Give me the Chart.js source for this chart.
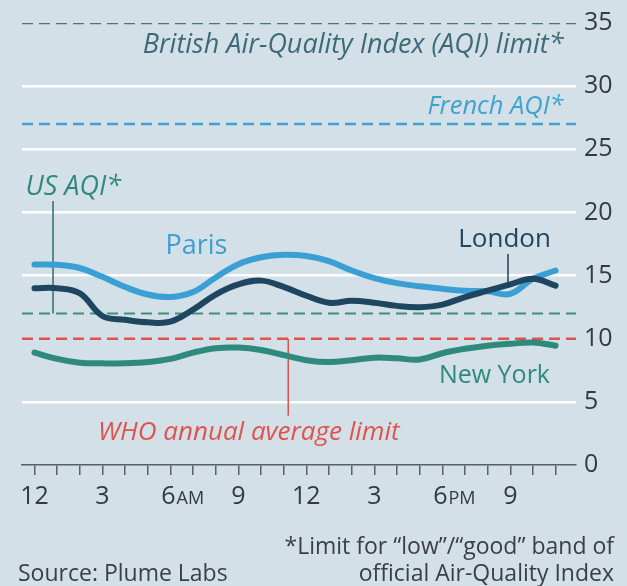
<!DOCTYPE html>
<html>
<head>
<meta charset="utf-8">
<script src="https://cdn.jsdelivr.net/npm/chart.js@4/dist/chart.umd.min.js"></script>
<style>
html,body{margin:0;padding:0;background:#d4e0e7;}
#wrap{position:relative;width:627px;height:586px;}
canvas{display:block;}
</style>
</head>
<body>
<div id="wrap"><canvas id="c" width="627" height="586"></canvas></div>
<script>
// ---- data ----
const hours = [0,1,2,3,4,5,6,7,8,9,10,11,12,13,14,15,16,17,18,19,20,21,22,23];
const hourLabels = {0:['12',''],3:['3',''],6:['6','AM'],9:['9',''],12:['12',''],15:['3',''],18:['6','PM'],21:['9','']};
const paris   = [15.87,15.85,15.6,14.9,14.1,13.5,13.3,13.7,14.85,15.9,16.45,16.65,16.55,16.15,15.4,14.8,14.4,14.15,13.95,13.8,13.75,13.55,14.75,15.4];
const london  = [14.0,14.0,13.6,11.8,11.5,11.3,11.35,12.3,13.5,14.3,14.6,14.1,13.4,12.85,13.0,12.85,12.6,12.5,12.7,13.3,13.8,14.3,14.75,14.2];
const newYork = [8.9,8.4,8.1,8.05,8.05,8.15,8.4,8.9,9.25,9.3,9.1,8.7,8.3,8.15,8.3,8.5,8.45,8.35,8.85,9.2,9.45,9.6,9.7,9.45];
const britishLimit = 35;
const frenchLimit = 27;
const usLimit = 12;
const whoLimit = 10;
const yTicks = [0,5,10,15,20,25,30,35];

const X_MIN = -0.55, X_MAX = 23.9;
const FONT = "'Open Sans',Roboto,sans-serif";

const pts = arr => arr.map((v,i)=>({x:hours[i], y:v}));
const hline = v => [{x:X_MIN,y:v},{x:X_MAX,y:v}];

const C_PARIS='#3a9fd4', C_LONDON='#1e4660', C_NY='#2e8a7c', C_RED='#e0534e', C_BRIT='#4a7580', C_FR='#3fa3cf', C_US='#3d8f7c';

const labels = [
  {t:'British Air-Quality Index (AQI) limit*', x:23.35, y:33.2, c:'#3d6a78', a:'right', it:true, s:27},
  {t:'French AQI*', x:23.35, y:28.4, c:C_FR, a:'right', it:true, s:25.5},
  {t:'US AQI*', x:-0.4, y:22.0, c:C_NY, a:'left', it:true, s:27},
  {t:'Paris', x:7.15, y:17.3, c:C_PARIS, a:'center', it:false, s:27},
  {t:'London', x:20.75, y:17.85, c:C_LONDON, a:'center', it:false, s:26},
  {t:'New York', x:20.3, y:7.08, c:C_NY, a:'center', it:false, s:25},
  {t:'WHO annual average limit', x:2.8, y:2.6, c:C_RED, a:'left', it:true, s:26}
];

const textPlugin = {
  id:'texts',
  afterDatasetsDraw(chart){
    const ctx = chart.ctx, xs = chart.scales.x, ys = chart.scales.y;
    ctx.save();
    ctx.textBaseline='middle';
    labels.forEach(l=>{
      ctx.font = (l.it?'italic ':'') + l.s + 'px ' + FONT;
      ctx.fillStyle = l.c; ctx.textAlign = l.a;
      ctx.fillText(l.t, xs.getPixelForValue(l.x), ys.getPixelForValue(l.y));
    });
    // x-axis hour labels (small-caps AM/PM)
    ctx.textBaseline='alphabetic';
    ctx.textAlign='left';
    ctx.fillStyle='#333a40';
    const base = 504;
    Object.keys(hourLabels).forEach(k=>{
      const [big, small] = hourLabels[k];
      ctx.font = '25px ' + FONT;
      const wb = ctx.measureText(big).width;
      ctx.font = '18px ' + FONT;
      const ws = small ? ctx.measureText(small).width + 1 : 0;
      let x0 = xs.getPixelForValue(+k) - (wb+ws)/2;
      if (small) x0 += (wb+ws)/2 - wb/2 - 2;
      ctx.font = '25px ' + FONT;
      ctx.fillText(big, x0, base);
      if (small){ ctx.font = '18px ' + FONT; ctx.fillText(small, x0+wb+1, base); }
    });
    ctx.font = '23px ' + FONT;
    ctx.fillStyle = '#3a3f44';
    ctx.textAlign='left';
    ctx.fillText('Source: Plume Labs', 18, 581);
    ctx.textAlign='right';
    ctx.fillText('*Limit for \u201clow\u201d/\u201cgood\u201d band of', 614, 554);
    ctx.fillText('official Air-Quality Index', 614, 581);
    ctx.restore();
  }
};

const ref = (data,color,dash,w,order) => ({data, borderColor:color, borderDash:dash, borderWidth:w, pointRadius:0, tension:0, order, fill:false});

new Chart(document.getElementById('c'), {
  type:'line',
  data:{
    datasets:[
      {label:'London', data:pts(london), borderColor:C_LONDON, borderWidth:6, pointRadius:0, tension:0.4, order:1, borderCapStyle:'round'},
      {label:'Paris', data:pts(paris), borderColor:C_PARIS, borderWidth:6, pointRadius:0, tension:0.4, order:2, borderCapStyle:'round'},
      {label:'New York', data:pts(newYork), borderColor:C_NY, borderWidth:6, pointRadius:0, tension:0.4, order:3, borderCapStyle:'round'},
      ref(hline(britishLimit), C_BRIT, [11,6], 2.5, 10),
      ref(hline(frenchLimit), C_FR, [11,6], 2.5, 10),
      ref(hline(usLimit), C_US, [11,6], 2, 10),
      ref(hline(whoLimit), C_RED, [11,6], 2.5, 10),
      ref([{x:0.82,y:20.9},{x:0.82,y:usLimit}], '#2f6f66', [], 1.5, 9),
      ref([{x:11.2,y:whoLimit},{x:11.2,y:3.9}], C_RED, [], 1.5, 9),
      ref([{x:20.9,y:16.7},{x:20.9,y:14.1}], '#2a3f50', [], 1.5, 0)
    ]
  },
  options:{
    responsive:false,
    animation:false,
    events:[],
    layout:{padding:{left:22, top:20, right:0, bottom:78}},
    plugins:{legend:{display:false}, tooltip:{enabled:false}},
    scales:{
      x:{
        type:'linear', min:X_MIN, max:X_MAX,
        afterBuildTicks(s){ s.ticks = hours.map(h=>({value:h})); },
        afterFit(s){ s.height = 586-465-78; },
        grid:{drawOnChartArea:false, drawTicks:true, tickLength:10, color:'#5a5f63', lineWidth:1.5},
        border:{display:true, color:'#5a5f63', width:1.5},
        ticks:{autoSkip:false, maxRotation:0, padding:4, color:'rgba(0,0,0,0)',
          font:{family:FONT, size:12},
          callback:()=> ''}
      },
      y:{
        position:'right', min:0, max:35,
        afterBuildTicks(s){ s.ticks = yTicks.map(v=>({value:v})); },
        afterFit(s){ s.width = 627-576; },
        grid:{drawTicks:false, lineWidth:2.5,
          color:(c)=> [5,15,20,25,30].includes(c.tick && c.tick.value) ? '#ffffff' : 'rgba(0,0,0,0)'},
        border:{display:false},
        ticks:{padding:8, color:'#333a40', font:{family:FONT, size:25}}
      }
    }
  },
  plugins:[textPlugin]
});
</script>
</body>
</html>
